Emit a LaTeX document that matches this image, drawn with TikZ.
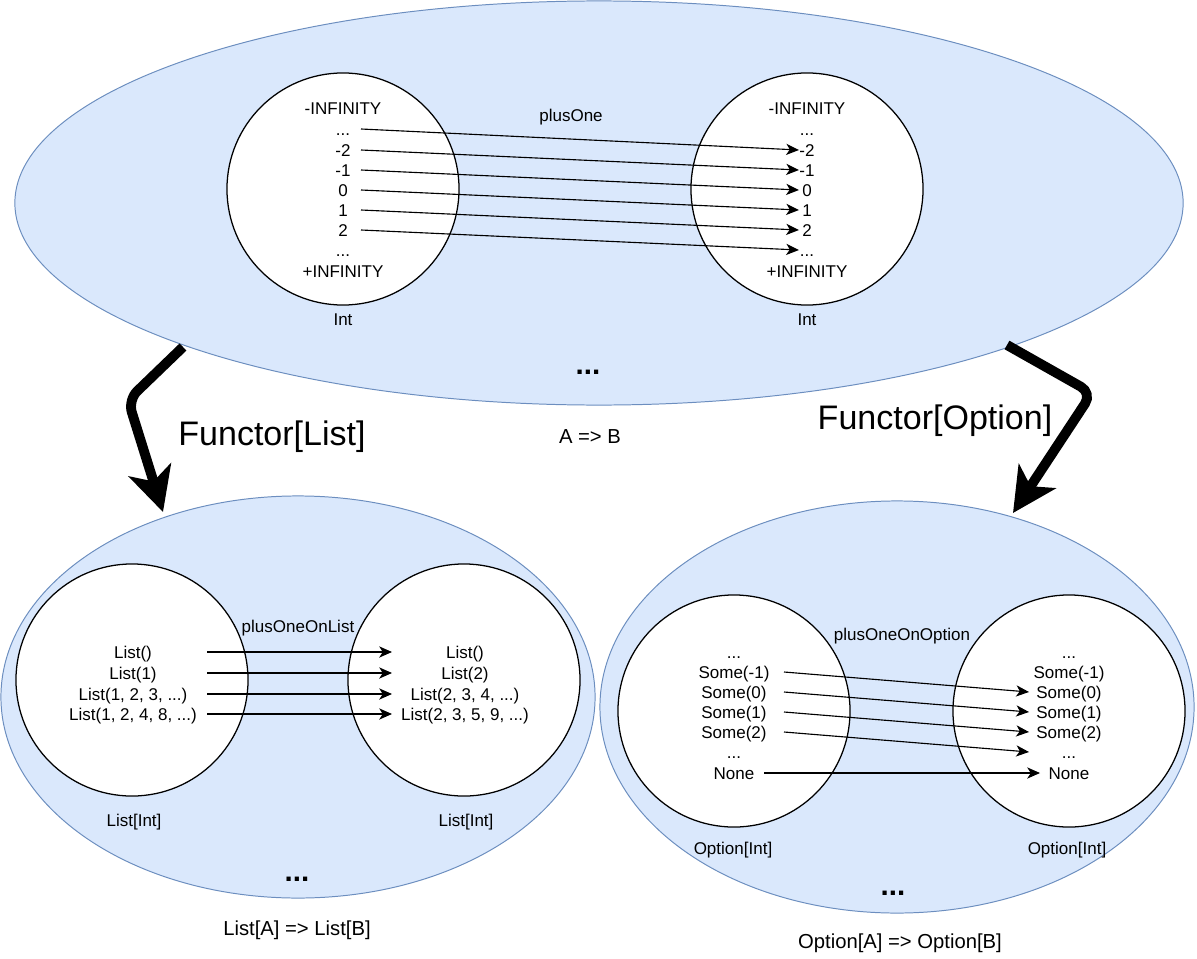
\documentclass[tikz,border=0pt]{standalone}
\usepackage{fontspec}
\setmainfont{Liberation Sans}
\usetikzlibrary{shapes.geometric,arrows.meta}

\definecolor{blueFill}{HTML}{DAE8FC}
\definecolor{blueEdge}{HTML}{6C8EBF}

\tikzset{
  cat/.style={ellipse, draw=blueEdge, fill=blueFill, line width=0.7pt, inner sep=0pt},
  dom/.style={circle, draw, fill=white, line width=0.9pt, minimum size=5.8cm, inner sep=0pt},
  val/.style={inner sep=0pt, text height=8.7pt, text depth=0pt, font=\fontsize{12.1}{14}\selectfont},
  lbl/.style={inner sep=0pt, font=\fontsize{12.1}{14}\selectfont},
  kind/.style={inner sep=0pt, font=\fontsize{14.4}{17}\selectfont},
  more/.style={inner sep=0pt, font=\fontsize{21}{24}\selectfont\bfseries},
  fname/.style={inner sep=0pt, font=\fontsize{24.2}{29}\selectfont},
  map/.style={-{Stealth[length=3.2mm,width=2.8mm,inset=0.9mm]}, line width=0.8pt},
  lift/.style={-{Stealth[length=11mm,width=11mm,inset=3mm]}, line width=7pt, rounded corners=9pt},
}

\begin{document}
\begin{tikzpicture}[x=0.025cm, y=-0.025cm]
        \useasboundingbox (0,0) rectangle (1197,959);

        % A => B
        \node[cat, minimum width=29.2cm, minimum height=10.1cm] at (599,203) (top) {};
        \node[dom] at (343,189) (intA) {};
        \node[dom] at (807,189) (intB) {};

        \node[val] at (343,108) (a1) {-INFINITY};
        \node[val] at (343,129) (a2) {...};
        \node[val] at (343,150) (a3) {-2};
        \node[val] at (343,170) (a4) {-1};
        \node[val] at (343,190) (a5) {0};
        \node[val] at (343,210) (a6) {1};
        \node[val] at (343,230) (a7) {2};
        \node[val] at (343,250) (a8) {...};
        \node[val] at (343,271) (a9) {+INFINITY};

        \node[val] at (807,108) (b1) {-INFINITY};
        \node[val] at (807,129) (b2) {...};
        \node[val] at (807,150) (b3) {-2};
        \node[val] at (807,170) (b4) {-1};
        \node[val] at (807,190) (b5) {0};
        \node[val] at (807,210) (b6) {1};
        \node[val] at (807,230) (b7) {2};
        \node[val] at (807,250) (b8) {...};
        \node[val] at (807,271) (b9) {+INFINITY};

        \coordinate (as) at (361,0);
        \coordinate (be) at (799,0);
        \draw[map] (a2 -| as) -- (b3 -| be);
        \draw[map] (a3 -| as) -- (b4 -| be);
        \draw[map] (a4 -| as) -- (b5 -| be);
        \draw[map] (a5 -| as) -- (b6 -| be);
        \draw[map] (a6 -| as) -- (b7 -| be);
        \draw[map] (a7 -| as) -- (b8 -| be);

        \node[lbl] at (571,117) (plusOne) {plusOne};
        \node[lbl] at (343,320) (intAname) {Int};
        \node[lbl] at (807,320) (intBname) {Int};
        \node[more] at (588,372) (topMore) {...};
        \node[kind] at (590,437) (topType) {A => B};

        % List[A] => List[B]
        \node[cat, minimum width=14.85cm, minimum height=10.05cm] at (298,697) (list) {};
        \node[dom] at (132,680) (listA) {};
        \node[dom] at (464,680) (listB) {};

        \node[val] at (133,652) (c1) {List()};
        \node[val] at (133,673) (c2) {List(1)};
        \node[val] at (133,694) (c3) {List(1, 2, 3, ...)};
        \node[val] at (133,714) (c4) {List(1, 2, 4, 8, ...)};

        \node[val] at (465,652) (d1) {List()};
        \node[val] at (465,673) (d2) {List(2)};
        \node[val] at (465,694) (d3) {List(2, 3, 4, ...)};
        \node[val] at (465,714) (d4) {List(2, 3, 5, 9, ...)};

        \coordinate (cs) at (207,0);
        \coordinate (de) at (392,0);
        \draw[map] (c1 -| cs) -- (d1 -| de);
        \draw[map] (c2 -| cs) -- (d2 -| de);
        \draw[map] (c3 -| cs) -- (d3 -| de);
        \draw[map] (c4 -| cs) -- (d4 -| de);

        \node[lbl] at (298,628) (plusOneOnList) {plusOneOnList};
        \node[lbl] at (134,822) (listAname) {List[Int]};
        \node[lbl] at (466,822) (listBname) {List[Int]};
        \node[more] at (297,879) (listMore) {...};
        \node[kind] at (297,930) (listType) {List[A] => List[B]};

        % Option[A] => Option[B]
        \node[cat, minimum width=14.85cm, minimum height=10.3cm] at (897,707) (opt) {};
        \node[dom] at (734,711) (optA) {};
        \node[dom] at (1069,711) (optB) {};

        \node[val] at (734,652) (e1) {...};
        \node[val] at (734,672) (e2) {Some(-1)};
        \node[val] at (734,692) (e3) {Some(0)};
        \node[val] at (734,712) (e4) {Some(1)};
        \node[val] at (734,732) (e5) {Some(2)};
        \node[val] at (734,752) (e6) {...};
        \node[val] at (734,773) (e7) {None};

        \node[val] at (1069,652) (f1) {...};
        \node[val] at (1069,672) (f2) {Some(-1)};
        \node[val] at (1069,692) (f3) {Some(0)};
        \node[val] at (1069,712) (f4) {Some(1)};
        \node[val] at (1069,732) (f5) {Some(2)};
        \node[val] at (1069,752) (f6) {...};
        \node[val] at (1069,773) (f7) {None};

        \coordinate (es) at (784,0);
        \coordinate (fe) at (1029,0);
        \coordinate (ns) at (764,0);
        \coordinate (ne) at (1040,0);
        \draw[map] (e2 -| es) -- (f3 -| fe);
        \draw[map] (e3 -| es) -- (f4 -| fe);
        \draw[map] (e4 -| es) -- (f5 -| fe);
        \draw[map] (e5 -| es) -- (f6 -| fe);
        \draw[map] (e7 -| ns) -- (f7 -| ne);

        \node[lbl] at (902,636) (plusOneOnOption) {plusOneOnOption};
        \node[lbl] at (733,850) (optAname) {Option[Int]};
        \node[lbl] at (1067,850) (optBname) {Option[Int]};
        \node[more] at (893,893) (optMore) {...};
        \node[kind] at (900,943) (optType) {Option[A] => Option[B]};

        % functors
        \coordinate (fl1) at (183,347);
        \coordinate (fl2) at (128,400);
        \coordinate (fl3) at (163,512);
        \coordinate (fo1) at (1007,345);
        \coordinate (fo2) at (1092,393);
        \coordinate (fo3) at (1013,513);
        \draw[lift] (fl1) -- (fl2) -- (fl3);
        \draw[lift] (fo1) -- (fo2) -- (fo3);
        \node[fname] at (272,437) (functorList) {Functor[List]};
        \node[fname] at (935,421) (functorOption) {Functor[Option]};
    \end{tikzpicture}
\end{document}
